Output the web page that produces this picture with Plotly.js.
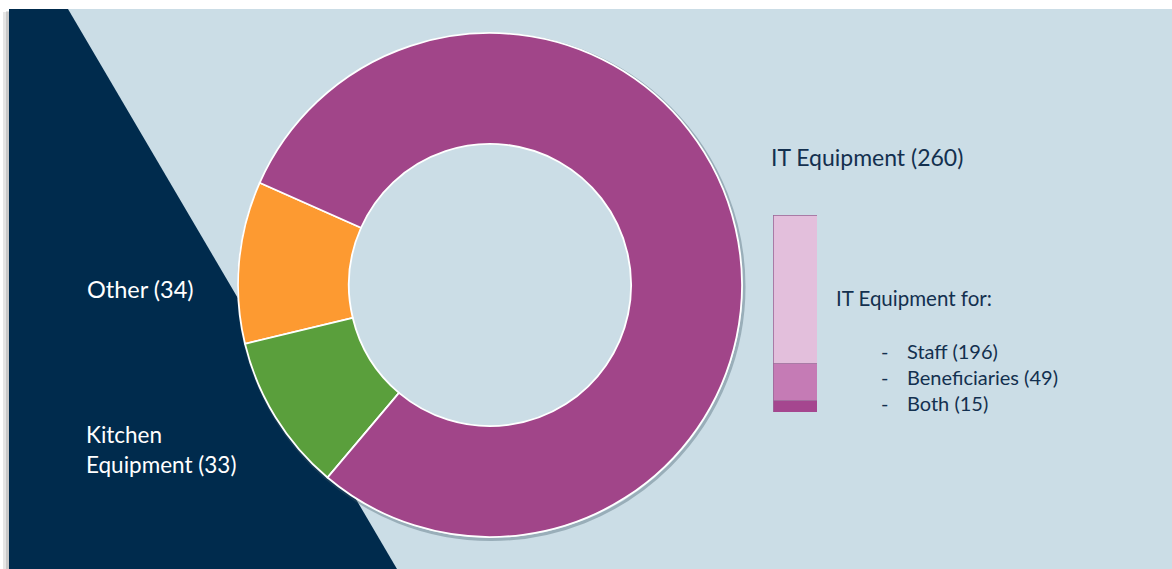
<!DOCTYPE html>
<html>
<head>
<meta charset="utf-8">
<script src="https://cdn.plot.ly/plotly-3.0.1.min.js"></script>
<style>
  html, body { margin: 0; padding: 0; background: #ffffff; }
  #chart { width: 1172px; height: 569px; }
</style>
</head>
<body>
<div id="chart"></div>
<script>
// ---- data ----
var categories = ["Other", "Kitchen Equipment", "IT Equipment"];
var values = [34, 33, 260];
var sliceColors = ["#fd9a31", "#5a9f3c", "#a14589"];

var itGroups = ["Both", "Beneficiaries", "Staff"];
var itValues = [15, 49, 196];
var itColors = ["#a5468f", "#c57bb5", "#e3bfdc"];

// ---- helpers (pixel -> paper) ----
var W = 1172, H = 569;
function px(x) { return x / W; }
function py(y) { return 1 - y / H; }

var pie = {
  type: "pie",
  labels: categories,
  values: values,
  sort: false,
  direction: "counterclockwise",
  rotation: -103.5,
  hole: 0.56,
  textinfo: "none",
  hoverinfo: "label+value",
  marker: { colors: sliceColors, line: { color: "#ffffff", width: 1.8 } },
  domain: { x: [px(238), px(742)], y: [py(537), py(33)] },
  showlegend: false
};

var bars = itGroups.map(function (g, i) {
  return {
    type: "bar",
    x: ["IT"],
    y: [itValues[i]],
    name: g,
    xaxis: "x",
    yaxis: "y",
    marker: { color: itColors[i], line: { color: "#9a6a98", width: 0.8 } },
    width: 1,
    hoverinfo: "name+y",
    showlegend: false
  };
});

var navy = "#002b4d";
var textColor = "#13304f";
var fontFam = "Lato, 'Open Sans', sans-serif";

var shapes = [
  // slide background
  { type: "rect", xref: "paper", yref: "paper", x0: px(9), x1: 1, y0: 0, y1: py(9),
    fillcolor: "#cbdde6", line: { width: 0 }, layer: "below" },
  // left shadow
  { type: "rect", xref: "paper", yref: "paper", x0: px(3), x1: px(9), y0: 0, y1: py(12),
    fillcolor: "rgba(0,0,0,0.10)", line: { width: 0 }, layer: "below" },
  { type: "rect", xref: "paper", yref: "paper", x0: px(6), x1: px(9), y0: 0, y1: py(11),
    fillcolor: "rgba(0,0,0,0.12)", line: { width: 0 }, layer: "below" },
  // navy triangle
  { type: "path", xref: "paper", yref: "paper",
    path: "M " + px(9) + "," + py(9) + " L " + px(68) + "," + py(9) + " L " + px(397) + "," + py(569) + " L " + px(9) + "," + py(569) + " Z",
    fillcolor: navy, line: { width: 0 }, layer: "below" },
  // donut outer shadow (ring only)
  { type: "circle", xref: "paper", yref: "paper",
    x0: px(490 - 252 + 0.5), x1: px(490 + 252 + 2), y0: py(285 + 252 + 2.5), y1: py(285 - 252 + 1),
    fillcolor: "rgba(0,0,0,0)", line: { color: "rgba(60,85,100,0.35)", width: 3 }, layer: "below" }
];

var ann = [];
function addText(text, x, y, size, color) {
  ann.push({ text: text, xref: "paper", yref: "paper", x: px(x), y: py(y),
    xanchor: "left", yanchor: "middle", showarrow: false,
    font: { family: fontFam, size: size, color: color } });
}
addText(categories[2] + " (" + values[2] + ")", 769, 157, 23, textColor);
addText(categories[0] + " (" + values[0] + ")", 85, 289, 23.5, "#ffffff");
addText("Kitchen", 84, 434, 22.5, "#ffffff");
addText("Equipment (" + values[1] + ")", 84, 464, 22.5, "#ffffff");
addText("IT Equipment for:", 834, 298, 20.5, textColor);
var listY = [351, 377, 403];
var listOrder = [2, 1, 0];
listOrder.forEach(function (k, j) {
  addText("-", 879, listY[j], 20, textColor);
  addText(itGroups[k] + " (" + itValues[k] + ")", 905, listY[j], 20, textColor);
});

var layout = {
  width: W, height: H,
  margin: { l: 0, r: 0, t: 0, b: 0 },
  paper_bgcolor: "#ffffff",
  plot_bgcolor: "rgba(0,0,0,0)",
  barmode: "stack",
  bargap: 0,
  xaxis: { domain: [px(773), px(817)], range: [-0.5, 0.5], visible: false, fixedrange: true },
  yaxis: { domain: [py(412), py(215)], range: [0, 260], visible: false, fixedrange: true },
  shapes: shapes,
  annotations: ann,
  showlegend: false
};

Plotly.newPlot("chart", [pie].concat(bars), layout, { displayModeBar: false, staticPlot: true });
</script>
</body>
</html>
